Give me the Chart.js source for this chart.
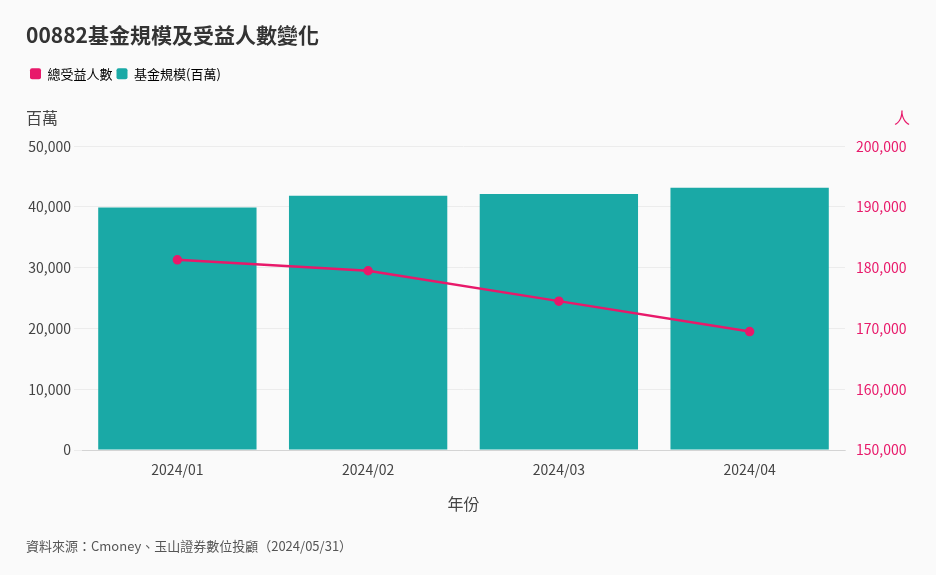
<!DOCTYPE html>
<html lang="zh-Hant">
<head>
<meta charset="UTF-8" />
<script src="https://cdn.jsdelivr.net/npm/chart.js@4"></script>
<style>
  html, body { margin: 0; padding: 0; background: #fafafa; }
  #wrap { width: 936px; height: 575px; position: relative; }
</style>
</head>
<body>
<div id="wrap"><canvas id="myChart" width="936" height="575"></canvas></div>
<script>
const labels = ["2024/01", "2024/02", "2024/03", "2024/04"];
const fundSize = [39900, 41850, 42150, 43150];
const holders = [181300, 179500, 174500, 169500];

const font = "'Noto Sans CJK TC', 'Noto Sans', sans-serif";
Chart.defaults.font.family = font;

// extra room under the legend for the unit labels
const legendGap = {
  id: "legendGap",
  beforeInit(chart) {
    const orig = chart.legend.fit;
    chart.legend.fit = function () {
      orig.bind(chart.legend)();
      this.height += 56;
    };
  }
};

// extra texts: unit labels above axes, footer
const extraText = {
  id: "extraText",
  afterDraw(chart) {
    const c = chart.ctx;
    c.save();
    c.font = "16px " + font;
    c.textBaseline = "bottom";
    c.fillStyle = "#444";
    c.textAlign = "left";
    c.fillText("百萬", 26, 126);
    c.fillStyle = "#e8196a";
    c.textAlign = "right";
    c.fillText("人", 910, 126);
    c.fillStyle = "#555";
    c.font = "13px " + font;
    c.textAlign = "left";
    c.fillText("資料來源：Cmoney、玉山證券數位投顧（2024/05/31）", 26, 553);
    c.restore();
  }
};

new Chart(document.getElementById("myChart"), {
  type: "bar",
  plugins: [legendGap, extraText],
  data: {
    labels: labels,
    datasets: [
      {
        type: "line",
        label: "總受益人數",
        data: holders,
        yAxisID: "y1",
        borderColor: "#e8196a",
        backgroundColor: "#e8196a",
        borderWidth: 2.5,
        pointRadius: 3.5,
        order: 1
      },
      {
        label: "基金規模(百萬)",
        data: fundSize,
        yAxisID: "y",
        backgroundColor: "#1aa9a6",
        categoryPercentage: 1,
        barPercentage: 0.83,
        order: 2
      }
    ]
  },
  options: {
    responsive: false,
    animation: false,
    layout: { padding: { left: 26, right: 20, top: 14, bottom: 57 } },
    plugins: {
      title: {
        display: true,
        text: "00882基金規模及受益人數變化",
        align: "start",
        color: "#333",
        font: { size: 21, weight: "bold" },
        padding: { top: 8, bottom: 16 }
      },
      legend: {
        align: "start",
        labels: {
          boxWidth: 11,
          boxHeight: 11,
          useBorderRadius: true,
          borderRadius: 2,
          padding: 4,
          color: "#333",
          font: { size: 13 },
          generateLabels(chart) {
            return chart.data.datasets.map((d, i) => ({
              text: d.label,
              fillStyle: d.backgroundColor,
              strokeStyle: d.backgroundColor,
              lineWidth: 0,
              borderRadius: 2,
              datasetIndex: i
            }));
          }
        }
      },
      tooltip: { enabled: false }
    },
    scales: {
      x: {
        grid: { display: false },
        ticks: { color: "#444", font: { size: 14 } },
        title: { display: true, text: "年份", color: "#444", font: { size: 16 }, padding: { top: 14 } }
      },
      y: {
        position: "left",
        min: 0, max: 50000,
        afterFit(s) { s.width = 56; },
        ticks: { stepSize: 10000, color: "#444", font: { size: 14 } },
        grid: { color: "#ececec" },
        border: { display: false }
      },
      y1: {
        position: "right",
        min: 150000, max: 200000,
        afterFit(s) { s.width = 71; },
        ticks: { stepSize: 10000, color: "#e8196a", font: { size: 14 } },
        grid: { display: false },
        border: { display: false }
      }
    }
  }
});
</script>
</body>
</html>
